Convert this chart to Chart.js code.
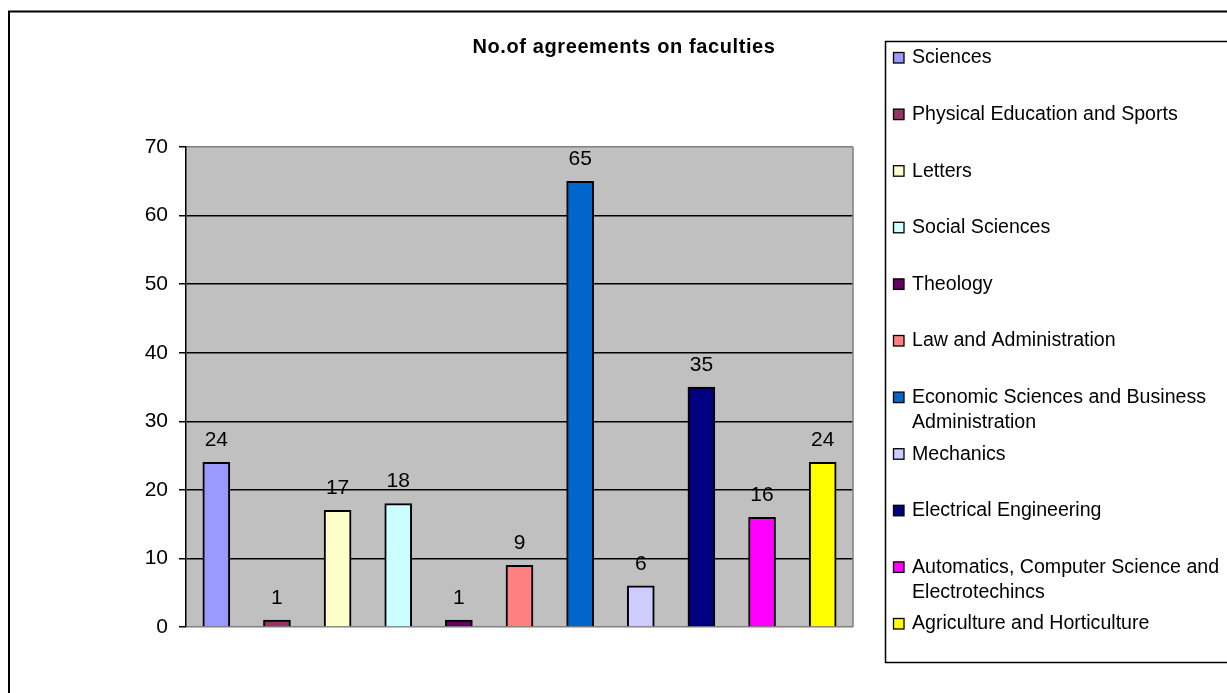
<!DOCTYPE html>
<html>
<head>
<meta charset="utf-8">
<script src="https://cdn.jsdelivr.net/npm/chart.js@4/dist/chart.umd.min.js"></script>
<style>
  html, body { margin: 0; padding: 0; background: #fff; }
  #wrap { width: 1227px; height: 693px; }
</style>
</head>
<body>
<div id="wrap"><canvas id="facultyChart" width="1227" height="693"></canvas></div>
<script>
const chartTitle = 'No.of agreements on faculties';
const faculties = [
  'Sciences',
  'Physical Education and Sports',
  'Letters',
  'Social Sciences',
  'Theology',
  'Law and Administration',
  'Economic Sciences and Business Administration',
  'Mechanics',
  'Electrical Engineering',
  'Automatics, Computer Science and Electrotechincs',
  'Agriculture and Horticulture'
];
const agreements = [24, 1, 17, 18, 1, 9, 65, 6, 35, 16, 24];
const barColors = ['#9999ff', '#993366', '#ffffcc', '#ccffff', '#660066', '#ff8080',
                   '#0066cc', '#ccccff', '#000080', '#ff00ff', '#ffff00'];
const yMin = 0, yMax = 70, yStep = 10;

const FONT = '"Liberation Sans", Arial, sans-serif';

// word wrap for the legend text
function wrapText(ctx, text, maxWidth) {
    const words = text.split(' ');
    const lines = [];
    let line = '';
    words.forEach(w => {
        const test = line ? line + ' ' + w : w;
        if (ctx.measureText(test).width > maxWidth && line) {
            lines.push(line);
            line = w;
        } else {
            line = test;
        }
    });
    lines.push(line);
    return lines;
}

const excelLook = {
    id: 'excelLook',
    beforeDraw(chart) {
        const { ctx, chartArea: a } = chart;
        ctx.save();
        ctx.fillStyle = '#fff';
        ctx.fillRect(0, 0, chart.width, chart.height);
        ctx.fillStyle = '#c0c0c0';
        ctx.fillRect(a.left, a.top, a.right - a.left, a.bottom - a.top);
        ctx.restore();
    },
    beforeDatasetsDraw(chart) {
        const { ctx, chartArea: a } = chart;
        ctx.save();
        ctx.strokeStyle = '#808080';
        ctx.lineWidth = 1.5;
        ctx.beginPath();
        ctx.moveTo(a.right, a.top);
        ctx.lineTo(a.right, a.bottom);
        ctx.stroke();
        ctx.restore();
    },
    afterDatasetsDraw(chart) {
        const { ctx } = chart;
        const meta = chart.getDatasetMeta(0);
        ctx.save();
        ctx.fillStyle = '#000';
        ctx.font = '21px ' + FONT;
        ctx.textAlign = 'center';
        ctx.textBaseline = 'middle';
        meta.data.forEach((bar, i) => {
            ctx.fillText(String(agreements[i]), bar.x, bar.y - 22);
        });
        ctx.restore();
    },
    afterDraw(chart) {
        const { ctx } = chart;
        ctx.save();
        // outer chart frame
        ctx.strokeStyle = '#000';
        ctx.lineWidth = 2;
        ctx.strokeRect(9, 11.5, 1240, 700);

        // title
        ctx.fillStyle = '#000';
        ctx.font = 'bold 20px ' + FONT;
        ctx.letterSpacing = '0.6px';
        ctx.textAlign = 'center';
        ctx.textBaseline = 'middle';
        ctx.fillText(chartTitle, 624, 47);
        ctx.letterSpacing = '0px';

        // legend box
        ctx.lineWidth = 1.5;
        ctx.strokeRect(885.5, 41.5, 400, 621);
        ctx.font = '19.6px ' + FONT;
        ctx.textAlign = 'left';
        faculties.forEach((name, i) => {
            const y = 58 + i * 56.6;
            ctx.fillStyle = barColors[i];
            ctx.fillRect(893.5, y - 5.5, 10.5, 10.5);
            ctx.strokeStyle = '#000';
            ctx.lineWidth = 1.3;
            ctx.strokeRect(893.5, y - 5.5, 10.5, 10.5);
            ctx.fillStyle = '#000';
            wrapText(ctx, name, 312).forEach((line, k) => {
                ctx.fillText(line, 912, y + k * 25);
            });
        });
        ctx.restore();
    }
};

new Chart(document.getElementById('facultyChart'), {
    type: 'bar',
    data: {
        labels: faculties,
        datasets: [{
            data: agreements,
            backgroundColor: barColors,
            borderColor: '#000',
            borderWidth: 2,
            barThickness: 27
        }]
    },
    options: {
        responsive: false,
        animation: false,
        layout: { padding: { left: 126, right: 374, top: 147, bottom: 66 } },
        plugins: {
            legend: { display: false },
            title: { display: false },
            tooltip: { enabled: false }
        },
        scales: {
            x: { display: false },
            y: {
                min: yMin,
                max: yMax,
                afterFit: s => { s.width = 60; },
                ticks: {
                    stepSize: yStep,
                    color: '#000',
                    padding: 11,
                    font: { family: FONT, size: 21 }
                },
                grid: {
                    color: c => (c.tick && (c.tick.value === yMin || c.tick.value === yMax)) ? '#808080' : '#000',
                    lineWidth: 1.5,
                    tickLength: 7,
                    tickColor: '#000'
                },
                border: { color: '#000', width: 1.5 }
            }
        }
    },
    plugins: [excelLook]
});
</script>
</body>
</html>
